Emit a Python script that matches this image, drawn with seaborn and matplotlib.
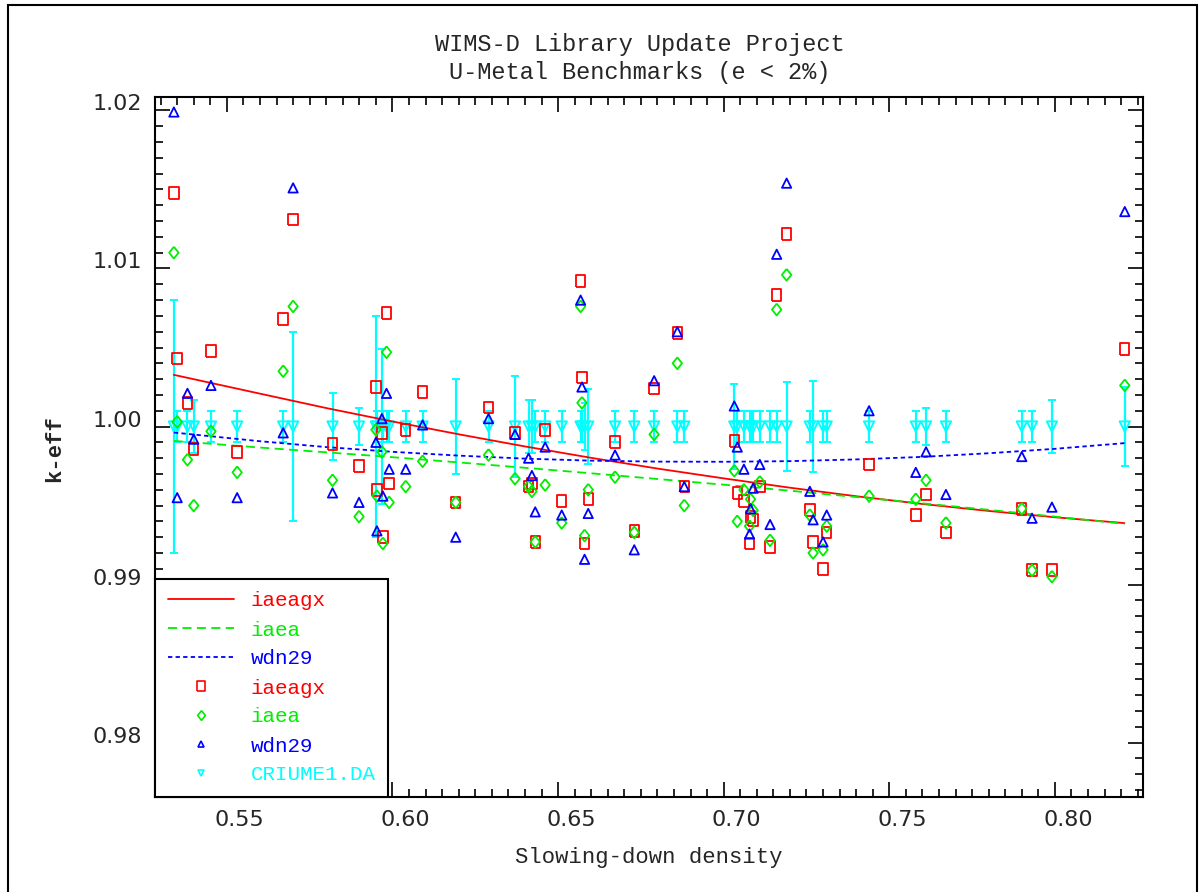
"""
WIMS-D Library Update Project - U-Metal benchmarks, k-eff vs slowing-down density.
"""
import numpy as np
import matplotlib
matplotlib.use("Agg")
import matplotlib.pyplot as plt
import matplotlib.transforms as mtransforms
from matplotlib.lines import Line2D
from matplotlib.legend_handler import HandlerLine2D
from matplotlib.ticker import MultipleLocator, FormatStrFormatter
import seaborn as sns

# Benchmark data
sdd = [0.5340, 0.5350, 0.5381, 0.5400, 0.5452, 0.5531, 0.5670, 0.5700, 0.5819, 0.5899,
       0.5950, 0.5953, 0.5968, 0.5971, 0.5982, 0.5990, 0.6040, 0.6091, 0.6191, 0.6290,
       0.6370, 0.6411, 0.6421, 0.6431, 0.6461, 0.6511, 0.6568, 0.6572, 0.6580, 0.6591,
       0.6672, 0.6730, 0.6790, 0.6860, 0.6881, 0.7032, 0.7041, 0.7061, 0.7078, 0.7081,
       0.7089, 0.7109, 0.7140, 0.7160, 0.7190, 0.7260, 0.7270, 0.7300, 0.7311, 0.7439,
       0.7580, 0.7611, 0.7671, 0.7900, 0.7931, 0.7991, 0.8211]

keff_iaeagx = [1.0148, 1.0043, 1.0015, 0.9986, 1.0048, 0.9984, 1.0068, 1.0131, 0.9989, 0.9975,
               1.0025, 0.9960, 0.9996, 0.9930, 1.0072, 0.9964, 0.9998, 1.0022, 0.9952, 1.0012,
               0.9996, 0.9962, 0.9964, 0.9927, 0.9998, 0.9953, 1.0092, 1.0031, 0.9926, 0.9954,
               0.9990, 0.9934, 1.0024, 1.0059, 0.9962, 0.9991, 0.9958, 0.9953, 0.9926, 0.9943,
               0.9941, 0.9962, 0.9924, 1.0083, 1.0122, 0.9947, 0.9927, 0.9910, 0.9933, 0.9976,
               0.9944, 0.9957, 0.9933, 0.9948, 0.9909, 0.9909, 1.0049]

keff_iaea = [1.0110, 1.0003, 0.9979, 0.9950, 0.9997, 0.9971, 1.0035, 1.0076, 0.9966, 0.9943,
             0.9998, 0.9956, 0.9984, 0.9926, 1.0047, 0.9952, 0.9962, 0.9978, 0.9952, 0.9982,
             0.9967, 0.9962, 0.9959, 0.9927, 0.9963, 0.9939, 1.0076, 1.0015, 0.9931, 0.9960,
             0.9968, 0.9933, 0.9995, 1.0040, 0.9950, 0.9972, 0.9940, 0.9960, 0.9937, 0.9954,
             0.9947, 0.9965, 0.9928, 1.0074, 1.0096, 0.9944, 0.9920, 0.9922, 0.9937, 0.9956,
             0.9954, 0.9966, 0.9939, 0.9948, 0.9909, 0.9905, 1.0026]

keff_wdn29 = [1.0199, 0.9955, 1.0021, 0.9992, 1.0026, 0.9955, 0.9996, 1.0151, 0.9958, 0.9952,
              0.9990, 0.9934, 1.0005, 0.9956, 1.0021, 0.9973, 0.9973, 1.0001, 0.9930, 1.0005,
              0.9995, 0.9980, 0.9969, 0.9946, 0.9987, 0.9944, 1.0080, 1.0025, 0.9916, 0.9945,
              0.9982, 0.9922, 1.0029, 1.0060, 0.9962, 1.0013, 0.9987, 0.9973, 0.9932, 0.9948,
              0.9961, 0.9976, 0.9938, 1.0109, 1.0154, 0.9959, 0.9941, 0.9927, 0.9944, 1.0010,
              0.9971, 0.9984, 0.9957, 0.9981, 0.9942, 0.9949, 1.0136]

# experimental values (CRIUME1.DA) and their uncertainties
keff_exp = [1.000, 1.000, 1.000, 1.000, 1.000, 1.000, 1.000, 1.000, 1.000, 1.000,
            1.000, 1.000, 1.000, 1.000, 1.000, 1.000, 1.000, 1.000, 1.000, 1.000,
            1.000, 1.000, 1.000, 1.000, 1.000, 1.000, 1.000, 1.000, 1.000, 1.000,
            1.000, 1.000, 1.000, 1.000, 1.000, 1.000, 1.000, 1.000, 1.000, 1.000,
            1.000, 1.000, 1.000, 1.000, 1.000, 1.000, 1.000, 1.000, 1.000, 1.000,
            1.000, 1.000, 1.000, 1.000, 1.000, 1.000, 1.000]
err_exp = [0.0080, 0.0010, 0.0010, 0.0017, 0.0010, 0.0010, 0.0010, 0.0060, 0.0021, 0.0012,
           0.0070, 0.0010, 0.0049, 0.0010, 0.0010, 0.0010, 0.0010, 0.0010, 0.0030, 0.0010,
           0.0032, 0.0017, 0.0017, 0.0010, 0.0010, 0.0010, 0.0010, 0.0010, 0.0015, 0.0024,
           0.0010, 0.0010, 0.0010, 0.0010, 0.0010, 0.0027, 0.0010, 0.0010, 0.0010, 0.0010,
           0.0010, 0.0010, 0.0010, 0.0010, 0.0028, 0.0010, 0.0029, 0.0010, 0.0010, 0.0010,
           0.0010, 0.0012, 0.0010, 0.0010, 0.0010, 0.0017, 0.0025]

# fitted trend curves
fit_x = [0.534, 0.56, 0.58, 0.60, 0.62, 0.64, 0.66, 0.68, 0.70, 0.72, 0.74, 0.76, 0.78, 0.80, 0.821]
fit_iaeagx = [1.00327, 1.00208, 1.00117, 1.00032, 0.99951, 0.99874, 0.99802, 0.99734,
              0.99672, 0.99613, 0.99559, 0.99510, 0.99466, 0.99426, 0.99389]
fit_iaea = [0.99909, 0.99867, 0.99837, 0.99806, 0.99773, 0.99739, 0.99704, 0.99668,
            0.99632, 0.99594, 0.99554, 0.99514, 0.99473, 0.99430, 0.99384]
fit_wdn29 = [0.99962, 0.99907, 0.99870, 0.99840, 0.99816, 0.99797, 0.99784, 0.99778,
             0.99777, 0.99781, 0.99792, 0.99808, 0.99831, 0.99859, 0.99895]

RED, GREEN, BLUE, CYAN = "#ff0000", "#00ee00", "#0000ff", "#00ffff"
MONO = "Liberation Mono"

# slightly tall open square and a wide-ish diamond, like the old plotter symbols
TALL_SQUARE = [(-0.8, -1), (0.8, -1), (0.8, 1), (-0.8, 1), (-0.8, -1)]
DIAMOND = [(0, 1), (0.8, 0), (0, -1), (-0.8, 0), (0, 1)]

sns.set_theme(style="ticks")
plt.rcParams['font.family'] = ['DejaVu Sans']
plt.rcParams['axes.linewidth'] = 1.5


class RightMarker(HandlerLine2D):
    """Legend handler that puts the marker near the right end of the handle."""
    def get_xdata(self, legend, xdescent, ydescent, width, height, fontsize):
        xdata, _ = super().get_xdata(legend, xdescent, ydescent, width, height, fontsize)
        return xdata, np.array([-xdescent + 0.91 * width])


fig = plt.figure(figsize=(12.04, 8.92), dpi=100)
W, H = 1204, 892
ax = fig.add_axes([155 / W, 1 - 797 / H, (1143 - 155) / W, (797 - 97) / H])
ax.set_facecolor("white")

# experimental points with error bars
ax.errorbar(sdd, keff_exp, yerr=err_exp, fmt="none", ecolor=CYAN, elinewidth=1.6,
            capsize=3, capthick=1.4, zorder=2)
sns.scatterplot(x=sdd, y=keff_exp, marker="v", s=55, color=CYAN, facecolor="none",
                edgecolor=CYAN, linewidth=1.4, ax=ax, zorder=3)

# trend curves
sns.lineplot(x=fit_x, y=fit_iaeagx, color=RED, linewidth=1.3, ax=ax, zorder=4)
sns.lineplot(x=fit_x, y=fit_iaea, color=GREEN, linewidth=1.3, ls=(0, (5, 3)), ax=ax, zorder=4)
sns.lineplot(x=fit_x, y=fit_wdn29, color=BLUE, linewidth=1.3, ls=(0, (2.4, 1.8)), ax=ax, zorder=4)

# calculated k-eff
sns.scatterplot(x=sdd, y=keff_iaeagx, marker=TALL_SQUARE, s=72, color=RED, facecolor="none",
                edgecolor=RED, linewidth=1.3, ax=ax, zorder=5)
sns.scatterplot(x=sdd, y=keff_iaea, marker=DIAMOND, s=72, color=GREEN, facecolor="none",
                edgecolor=GREEN, linewidth=1.3, ax=ax, zorder=5)
sns.scatterplot(x=sdd, y=keff_wdn29, marker="^", s=45, color=BLUE, facecolor="none",
                edgecolor=BLUE, linewidth=1.3, ax=ax, zorder=5)

ax.set_xlim(0.5283, 0.8266)
ax.set_ylim(0.97656, 1.02085)
ax.xaxis.set_major_locator(MultipleLocator(0.05))
ax.xaxis.set_minor_locator(MultipleLocator(0.005))
ax.yaxis.set_major_locator(MultipleLocator(0.01))
ax.yaxis.set_minor_locator(MultipleLocator(0.001))
ax.xaxis.set_major_formatter(FormatStrFormatter("%.2f"))
ax.yaxis.set_major_formatter(FormatStrFormatter("%.2f"))
ax.tick_params(which="both", direction="in", top=True, right=True, color="black", width=1.2)
ax.tick_params(which="major", length=11, labelsize=16, pad=9)
ax.tick_params(which="minor", length=6)
for sp in ax.spines.values():
    sp.set_color("black")
    sp.set_linewidth(1.5)

# old plotting package style: labels sit a bit off their ticks
shift = mtransforms.ScaledTranslation(13 / 100, 0, fig.dpi_scale_trans)
for lab in ax.get_xticklabels():
    lab.set_transform(lab.get_transform() + shift)
for lab in ax.get_yticklabels():
    lab.set_verticalalignment("baseline")

ax.set_xlabel("Slowing-down density", family=MONO, fontsize=16, va="center")
ax.xaxis.set_label_coords(0.5, (797 - 858) / 700)
ax.set_ylabel("k-eff", family=MONO, fontsize=16, fontweight="bold", va="center")
ax.yaxis.set_label_coords((55 - 155) / 988, (797 - 449) / 700)

fig.text(640 / W, 1 - 44 / H, "WIMS-D Library Update Project", family=MONO,
         fontsize=17, ha="center", va="center")
fig.text(640 / W, 1 - 73 / H, "U-Metal Benchmarks (e < 2%)", family=MONO,
         fontsize=17, ha="center", va="center")

# legend
handles = [
    Line2D([], [], color=RED, lw=1.3, ls="-"),
    Line2D([], [], color=GREEN, lw=1.3, ls=(0, (5, 3))),
    Line2D([], [], color=BLUE, lw=1.3, ls=(0, (2.4, 1.8))),
    Line2D([], [], color=RED, ls="none", marker=TALL_SQUARE, ms=7, mfc="none", mew=1.2),
    Line2D([], [], color=GREEN, ls="none", marker=DIAMOND, ms=7, mfc="none", mew=1.2),
    Line2D([], [], color=BLUE, ls="none", marker="^", ms=5, mfc="none", mew=1.2),
    Line2D([], [], color=CYAN, ls="none", marker="v", ms=5, mfc="none", mew=1.2),
]
labels = ["iaeagx", "iaea", "wdn29", "iaeagx", "iaea", "wdn29", "CRIUME1.DA"]
label_colors = [RED, GREEN, BLUE, RED, GREEN, BLUE, CYAN]
leg = ax.legend(handles, labels, loc="lower left", bbox_to_anchor=(0, 0),
                borderaxespad=0, fancybox=False, framealpha=1, edgecolor="black",
                prop={"family": MONO, "size": 15}, handlelength=3.2, handletextpad=0.8,
                labelspacing=0.48, borderpad=0.6,
                handler_map={h: RightMarker() for h in handles[3:]})
leg.get_frame().set_linewidth(1.5)
for txt, c in zip(leg.get_texts(), label_colors):
    txt.set_color(c)

# outer frame round the whole picture
fig.add_artist(plt.Rectangle((8 / W, -0.01), (1197 - 8) / W, 1.01 - 5 / H,
                             transform=fig.transFigure, fill=False, lw=1.5,
                             edgecolor="black"))

fig.savefig("out.png", dpi=100, facecolor="white")
